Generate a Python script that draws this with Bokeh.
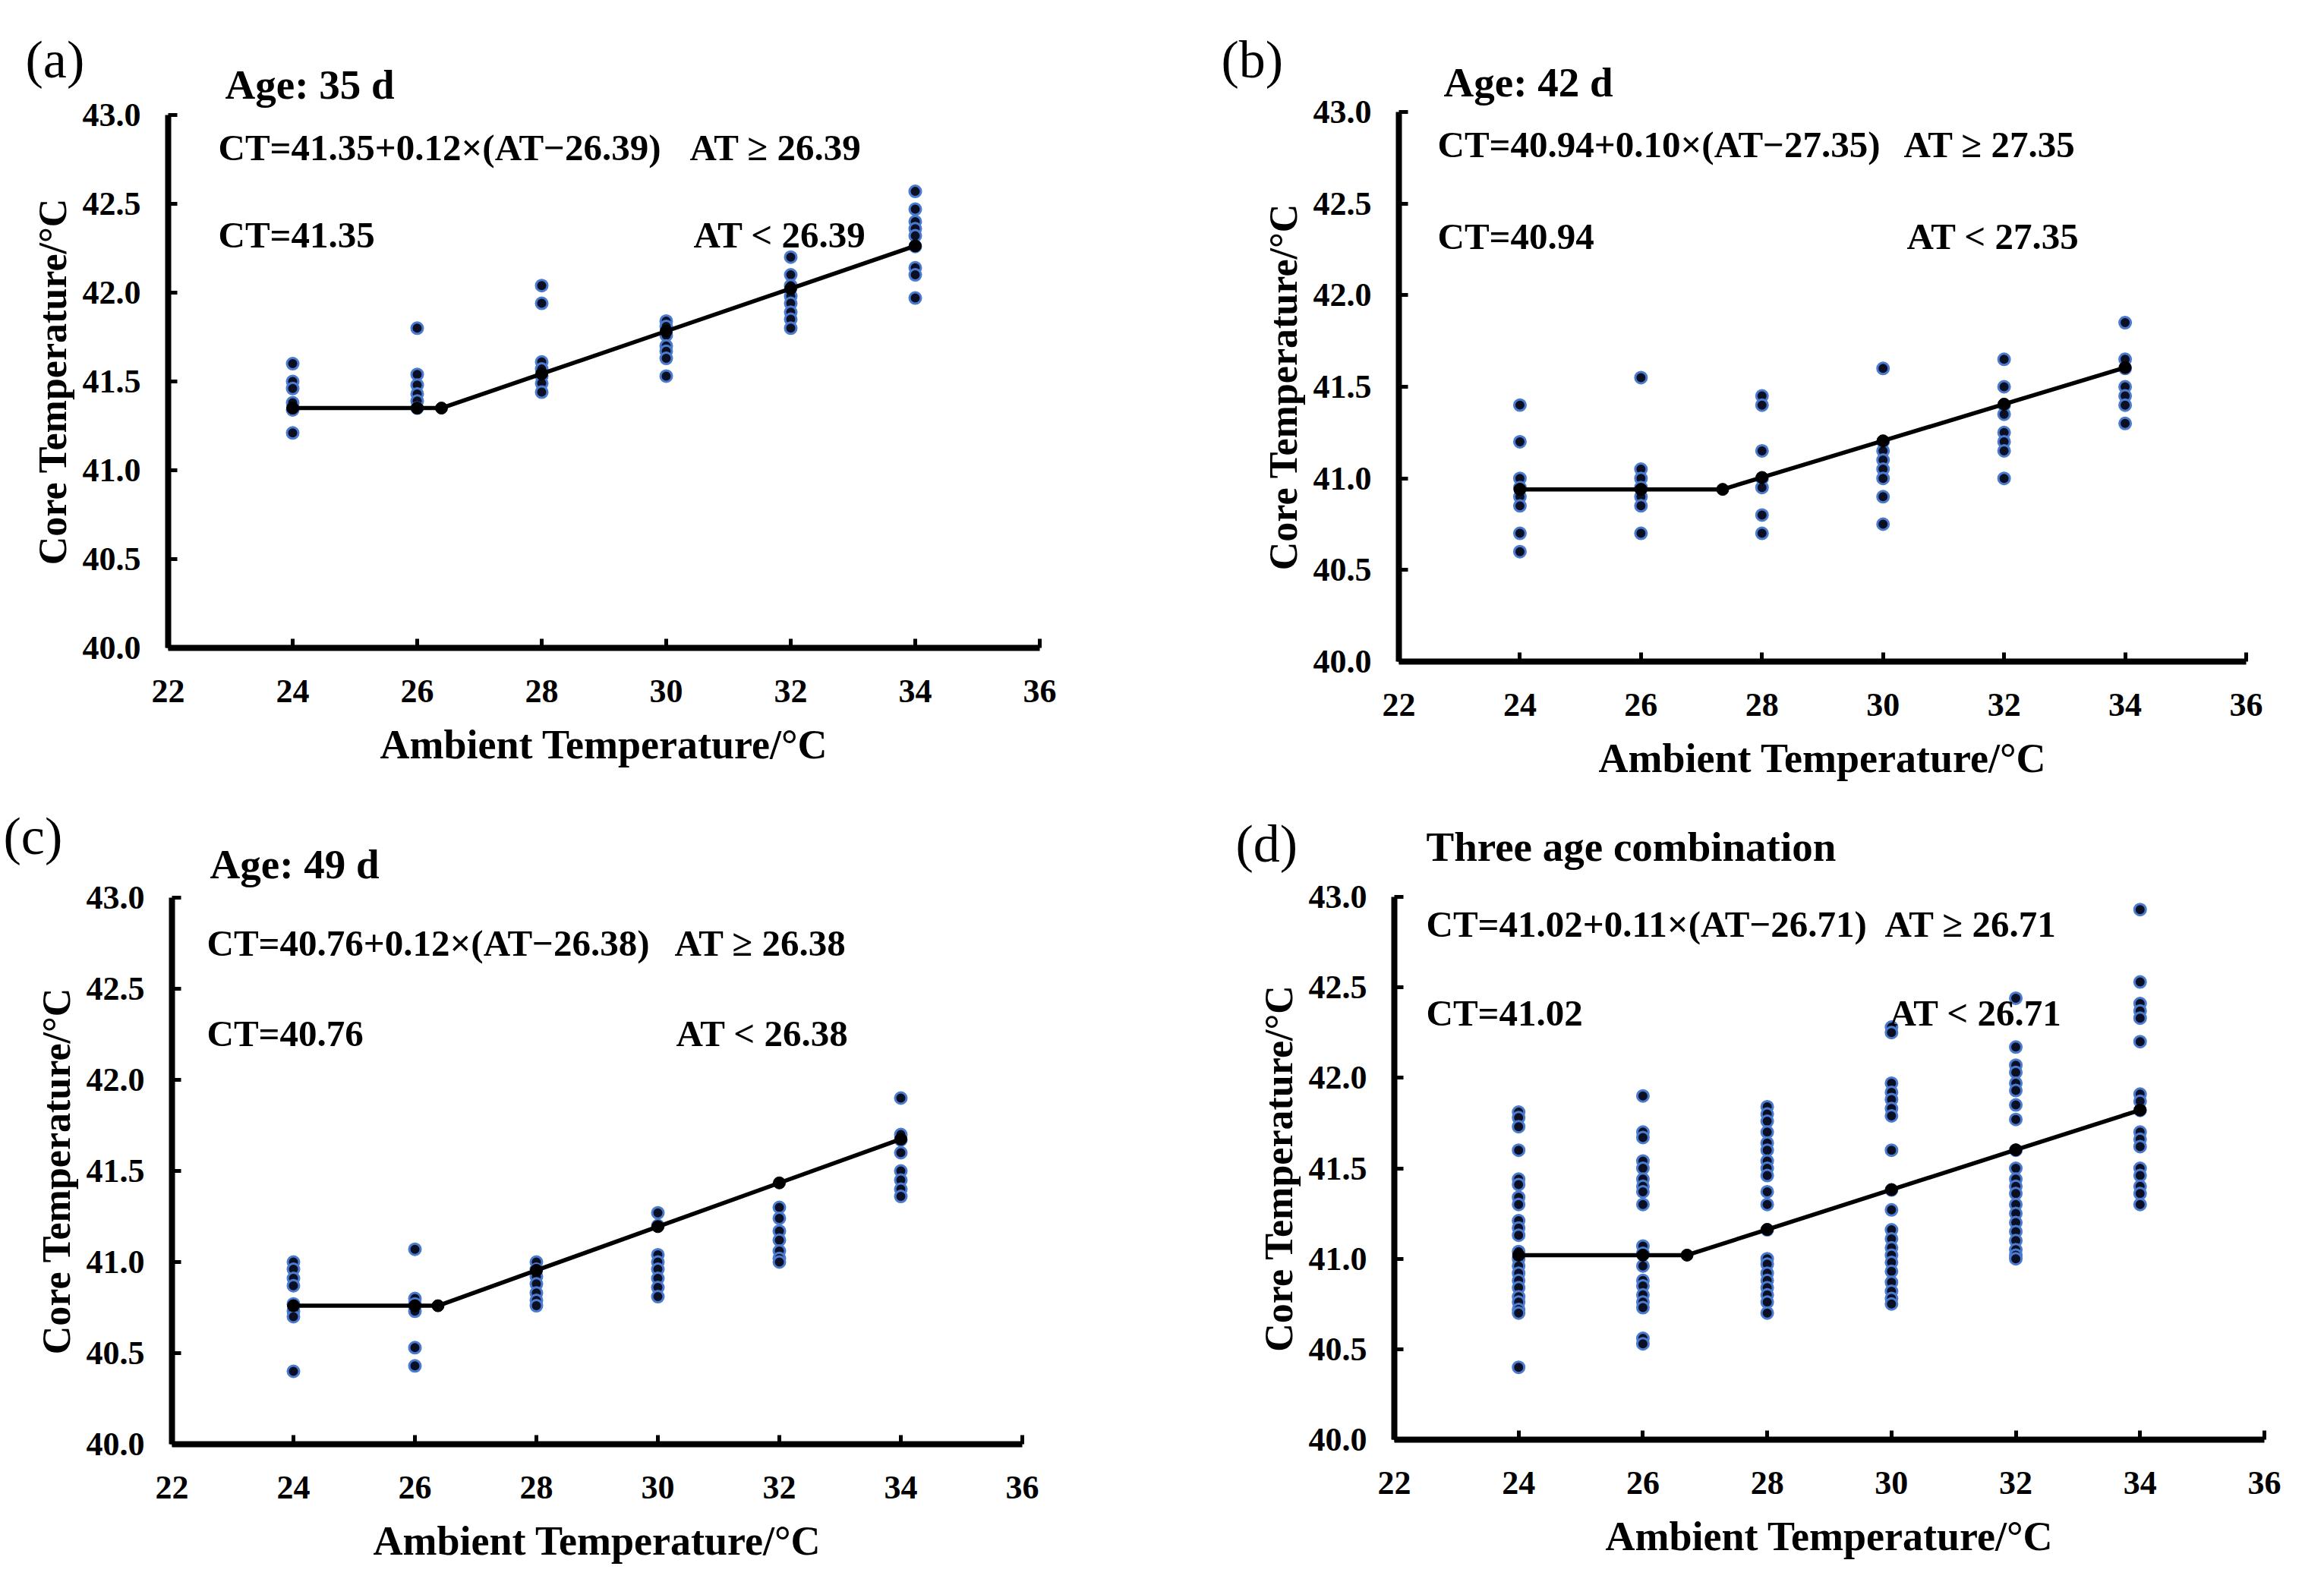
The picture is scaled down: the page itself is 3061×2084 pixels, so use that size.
from bokeh.plotting import figure
from bokeh.models import Label, FixedTicker, PrintfTickFormatter, Range1d, GridBox
from bokeh.embed import file_html
from bokeh.resources import INLINE

# ---------------- data ----------------
AT_LEVELS = [24, 26, 28, 30, 32, 34]
X_TICKS = [22, 24, 26, 28, 30, 32, 34, 36]
Y_TICKS = [40.0, 40.5, 41.0, 41.5, 42.0, 42.5, 43.0]

# (a) Age 35 d
a_24 = [41.60, 41.50, 41.46, 41.38, 41.34, 41.21]
a_26 = [41.80, 41.54, 41.48, 41.43, 41.39, 41.35]
a_28 = [42.04, 41.94, 41.61, 41.57, 41.53, 41.49, 41.44]
a_30 = [41.84, 41.81, 41.76, 41.70, 41.67, 41.63, 41.53]
a_32 = [42.20, 42.10, 42.04, 41.98, 41.94, 41.89, 41.85, 41.80]
a_34 = [42.57, 42.47, 42.40, 42.36, 42.32, 42.26, 42.14, 42.10, 41.97]
a_fit = (41.35, 0.12, 26.39)

# (b) Age 42 d
b_24 = [41.40, 41.20, 41.00, 40.95, 40.90, 40.85, 40.70, 40.60]
b_26 = [41.55, 41.05, 41.00, 40.95, 40.90, 40.85, 40.70]
b_28 = [41.45, 41.40, 41.15, 41.00, 40.95, 40.80, 40.70]
b_30 = [41.60, 41.20, 41.15, 41.10, 41.05, 41.00, 40.90, 40.75]
b_32 = [41.65, 41.50, 41.40, 41.35, 41.25, 41.20, 41.15, 41.00]
b_34 = [41.85, 41.65, 41.60, 41.50, 41.45, 41.40, 41.30]
b_fit = (40.94, 0.10, 27.35)

# (c) Age 49 d
c_24 = [41.00, 40.96, 40.91, 40.87, 40.77, 40.73, 40.70, 40.40]
c_26 = [41.07, 40.80, 40.77, 40.73, 40.53, 40.43]
c_28 = [41.00, 40.96, 40.92, 40.88, 40.83, 40.79, 40.76]
c_30 = [41.27, 41.20, 41.04, 41.00, 40.96, 40.91, 40.86, 40.81]
c_32 = [41.30, 41.24, 41.17, 41.12, 41.06, 41.02, 41.00]
c_34 = [41.90, 41.70, 41.67, 41.60, 41.50, 41.45, 41.40, 41.36]
c_fit = (40.76, 0.12, 26.38)

# (d) three ages combined
d_24 = [41.81, 41.78, 41.73, 41.60, 41.44, 41.41, 41.34, 41.30, 41.21, 41.17, 41.13,
        41.04, 41.00, 40.96, 40.92, 40.88, 40.84, 40.79, 40.76, 40.72, 40.70, 40.40]
d_26 = [41.90, 41.70, 41.67, 41.54, 41.50, 41.44, 41.40, 41.37, 41.30, 41.07, 41.03,
        40.96, 40.88, 40.85, 40.80, 40.76, 40.73, 40.56, 40.53]
d_28 = [41.84, 41.80, 41.76, 41.70, 41.64, 41.60, 41.54, 41.50, 41.46, 41.37, 41.30,
        41.16, 41.00, 40.97, 40.92, 40.88, 40.84, 40.80, 40.76, 40.70]
d_30 = [42.28, 42.25, 41.97, 41.92, 41.88, 41.83, 41.79, 41.60, 41.38, 41.27, 41.16,
        41.11, 41.06, 41.02, 40.98, 40.93, 40.87, 40.82, 40.78, 40.75]
d_32 = [42.44, 42.17, 42.07, 42.03, 41.97, 41.93, 41.85, 41.77, 41.60, 41.50, 41.44,
        41.40, 41.36, 41.30, 41.25, 41.20, 41.15, 41.10, 41.05, 41.02, 41.00]
d_34 = [42.93, 42.53, 42.41, 42.37, 42.33, 42.20, 41.91, 41.87, 41.82, 41.70, 41.66,
        41.62, 41.50, 41.46, 41.40, 41.36, 41.30]
d_fit = (41.02, 0.11, 26.71)

# texts
a_texts = ("(a)", "Age: 35 d", "CT=41.35+0.12×(AT−26.39)", "AT ≥ 26.39", "CT=41.35", "AT < 26.39")
b_texts = ("(b)", "Age: 42 d", "CT=40.94+0.10×(AT−27.35)", "AT ≥ 27.35", "CT=40.94", "AT < 27.35")
c_texts = ("(c)", "Age: 49 d", "CT=40.76+0.12×(AT−26.38)", "AT ≥ 26.38", "CT=40.76", "AT < 26.38")
d_texts = ("(d)", "Three age combination", "CT=41.02+0.11×(AT−26.71)", "AT ≥ 26.71", "CT=41.02", "AT < 26.71")

X_LABEL = "Ambient Temperature/°C"
Y_LABEL = "Core Temperature/°C"

FONT = "Liberation Serif"
DOT_FILL = "#0a0f24"
DOT_LINE = "#4a7bd0"

CELL_W = 1520
CELL_W2 = 1522
CELL_H = 1032


def make_panel(series, fit, texts, geom):
    W, H, bl, br, bt, bb, ox, oy, pos = geom
    fw = W - bl - br
    fh = H - bt - bb
    x0, x1, y0, y1 = 22.0, 36.0, 40.0, 43.0

    def to_data(px, py):
        cx = px - ox
        cy = py - oy
        return (x0 + (cx - bl) / fw * (x1 - x0), y1 - (cy - bt) / fh * (y1 - y0))

    p = figure(width=W, height=H, output_backend="svg", toolbar_location=None,
               x_range=Range1d(x0, x1), y_range=Range1d(y0, y1),
               min_border_left=bl, min_border_right=br,
               min_border_top=bt, min_border_bottom=bb)
    p.frame_align = False
    p.title.visible = False
    p.outline_line_color = None
    p.grid.visible = False
    p.background_fill_color = "white"
    p.border_fill_color = "white"

    for lvl, vals in zip(AT_LEVELS, series):
        p.scatter([lvl] * len(vals), vals, size=15, fill_color=DOT_FILL,
                  line_color=DOT_LINE, line_width=3)

    a0, slope, bp = fit
    fx = sorted(AT_LEVELS + [bp])
    fy = [a0 if x < bp else a0 + slope * (x - bp) for x in fx]
    p.line(fx, fy, line_color="black", line_width=5.5)
    p.scatter(fx, fy, size=16, fill_color="black", line_color="black")

    for ax in (p.xaxis[0], p.yaxis[0]):
        ax.axis_line_width = 8
        ax.axis_line_color = "black"
        ax.major_tick_line_width = 5
        ax.major_tick_line_color = "black"
        ax.major_tick_in = 12
        ax.major_tick_out = 0
        ax.minor_tick_line_color = None
        ax.major_label_text_font = FONT
        ax.major_label_text_font_style = "bold"
        ax.major_label_text_font_size = "44px"
        ax.major_label_text_color = "black"
        ax.axis_label_text_font = FONT
        ax.axis_label_text_font_style = "bold"
        ax.axis_label_text_color = "black"

    p.xaxis.ticker = FixedTicker(ticks=X_TICKS)
    p.xaxis.formatter = PrintfTickFormatter(format="%d")
    p.xaxis.major_label_standoff = 42
    p.xaxis.axis_label = X_LABEL
    p.xaxis.axis_label_text_font_size = "54px"
    p.xaxis.axis_label_standoff = 23

    p.yaxis.ticker = FixedTicker(ticks=Y_TICKS)
    p.yaxis.formatter = PrintfTickFormatter(format="%.1f")
    p.yaxis.major_label_standoff = 36
    p.yaxis.axis_label = Y_LABEL
    p.yaxis.axis_label_text_font_size = "52px"
    p.yaxis.axis_label_standoff = 8

    # equation texts (inside the plotting area)
    for txt, (px, py) in zip(texts[2:], pos[2:]):
        dx, dy = to_data(px, py)
        p.add_layout(Label(x=dx, y=dy, text=txt, text_font=FONT, text_font_size="49px",
                           text_font_style="bold", text_color="black",
                           text_align="left", text_baseline="middle"))
    return p


# geometry: width, height, border l/r/t/b, page offset x/y, text anchor positions (page px)
geom_a = (CELL_W, CELL_H, 221, 151, 151, 179, 8, 8,
          [(41, 86), (304, 119), (295, 202), (916, 202), (295, 317), (921, 317)])
geom_b = (CELL_W2, CELL_H, 322, 84, 147, 161, 1528, 8,
          [(1616, 86), (1909, 116), (1901, 198), (2515, 198), (1901, 319), (2519, 319)])
geom_c = (CELL_W, CELL_H, 226, 174, 150, 162, 8, 1040,
          [(12, 1109), (284, 1146), (280, 1250), (896, 1250), (280, 1369), (898, 1369)])
geom_d = (CELL_W2, CELL_H, 316, 60, 149, 168, 1528, 1040,
          [(1635, 1119), (1886, 1123), (1886, 1225), (2490, 1225), (1886, 1342), (2496, 1342)])

pa = make_panel([a_24, a_26, a_28, a_30, a_32, a_34], a_fit, a_texts, geom_a)
pb = make_panel([b_24, b_26, b_28, b_30, b_32, b_34], b_fit, b_texts, geom_b)
pc = make_panel([c_24, c_26, c_28, c_30, c_32, c_34], c_fit, c_texts, geom_c)
pd = make_panel([d_24, d_26, d_28, d_30, d_32, d_34], d_fit, d_texts, geom_d)

# transparent overlay carrying the panel letters and panel titles (outside plot frames)
OW = CELL_W + CELL_W2
OH = 2 * CELL_H
ov = figure(width=OW, height=OH, output_backend="svg", toolbar_location=None,
            x_range=Range1d(0, OW), y_range=Range1d(OH, 0),
            x_axis_type=None, y_axis_type=None, min_border=0)
ov.frame_align = False
ov.title.visible = False
ov.outline_line_color = None
ov.background_fill_color = None
ov.border_fill_color = None
for texts, geom in ((a_texts, geom_a), (b_texts, geom_b), (c_texts, geom_c), (d_texts, geom_d)):
    pos = geom[8]
    ov.add_layout(Label(x=pos[0][0] - 8, y=pos[0][1] - 8, text=texts[0], text_font=FONT,
                        text_font_size="70px", text_font_style="normal", text_color="black",
                        text_align="left", text_baseline="middle"))
    ov.add_layout(Label(x=pos[1][0] - 8, y=pos[1][1] - 8, text=texts[1], text_font=FONT,
                        text_font_size="55px", text_font_style="bold", text_color="black",
                        text_align="left", text_baseline="middle"))

grid = GridBox(children=[(pa, 0, 0), (pb, 0, 1), (pc, 1, 0), (pd, 1, 1), (ov, 0, 0, 2, 2)],
               spacing=0)
open("out.html", "w").write(file_html(grid, INLINE))
